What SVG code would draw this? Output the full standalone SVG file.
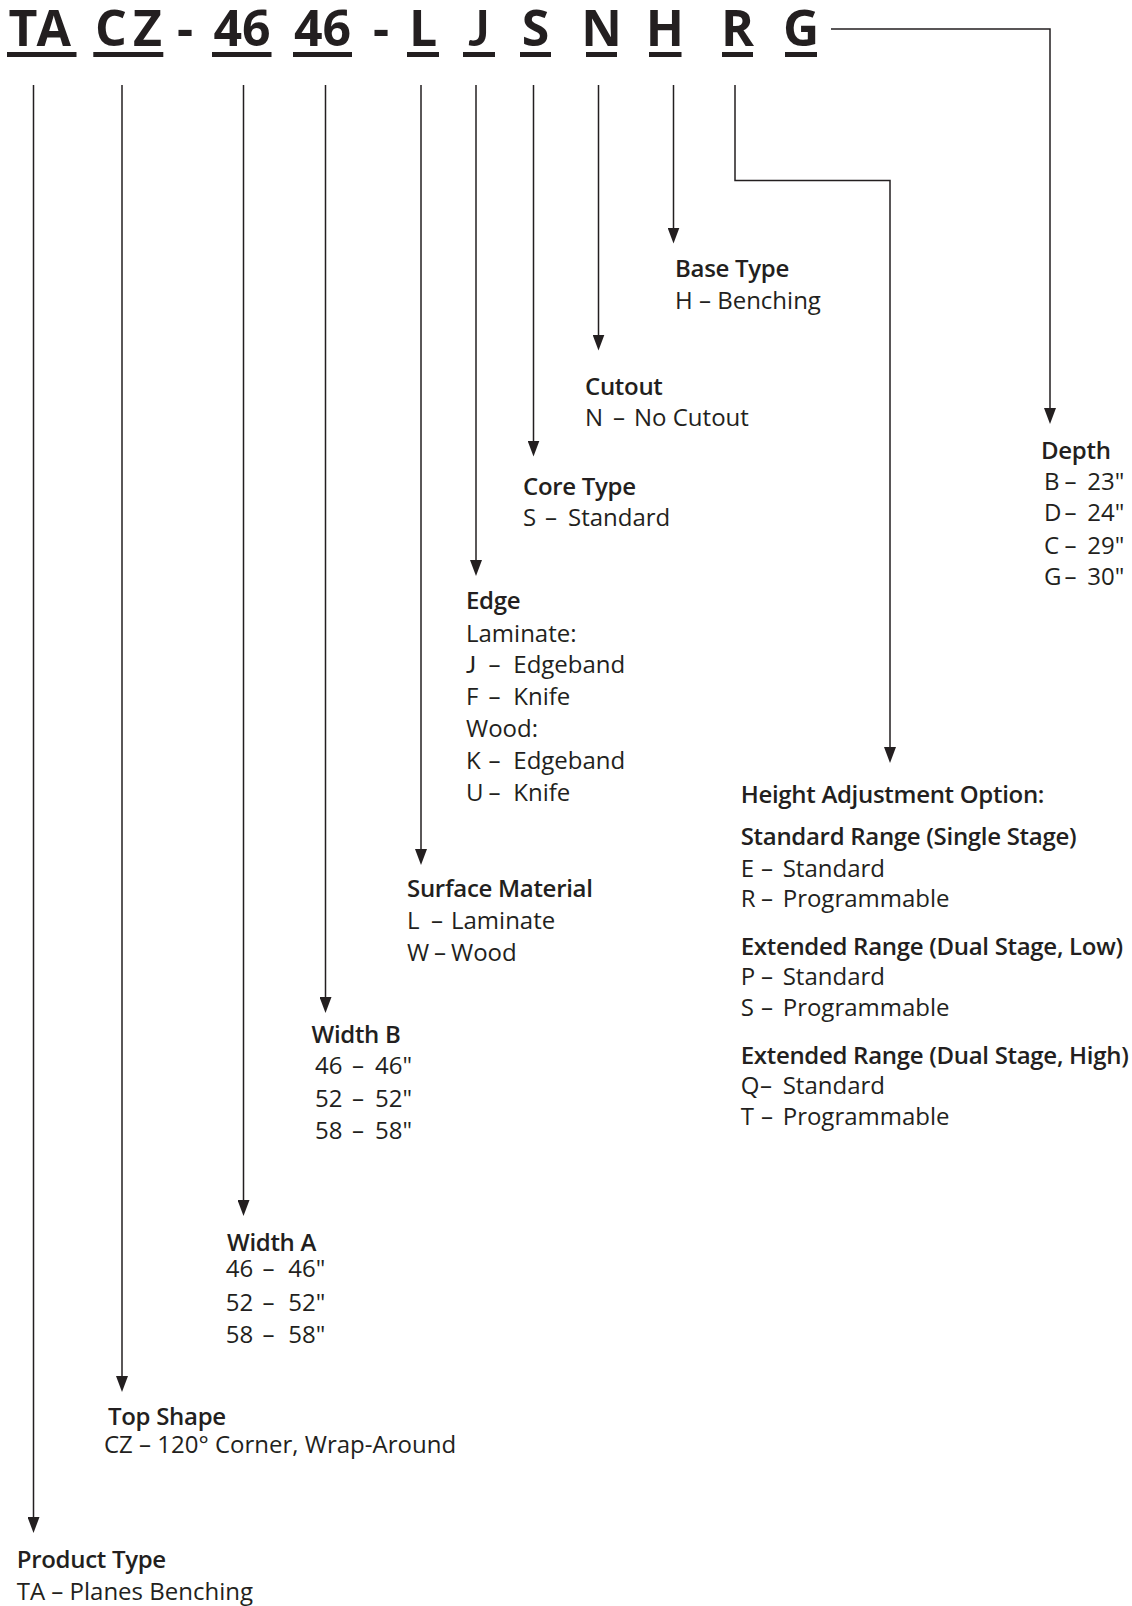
<svg xmlns="http://www.w3.org/2000/svg" width="1132" height="1606" viewBox="0 0 1132 1606">
<style>
text{font-family:"Open Sans","Noto Sans","Liberation Sans",sans-serif;fill:#231f20}
.code{font-size:50px;font-weight:700;text-anchor:middle}
.jj{font-family:Lato,"Open Sans",sans-serif}
.h{font-size:24px;font-weight:600;letter-spacing:-0.3px}
.t{font-size:24px;font-weight:400}
.ul{fill:#231f20}
.conn{fill:none;stroke:#231f20;stroke-width:1.5}
</style>
<defs>
<marker id="arr" viewBox="0 -6 16 12" refX="8" refY="0" markerWidth="16" markerHeight="12" markerUnits="userSpaceOnUse" orient="auto">
<path d="M0,-6 L16,0 L0,6 z" fill="#231f20"/>
</marker>
</defs>
<g id="code">
<text class="code" x="23" y="45.5">T</text>
<text class="code" x="53.7" y="45.5">A</text>
<text class="code" x="111" y="45.5">C</text>
<text class="code" x="147.5" y="45.5">Z</text>
<text class="code" x="185" y="45.5">-</text>
<text class="code" x="242" y="45.5">46</text>
<text class="code" x="322.5" y="45.5">46</text>
<text class="code" x="381" y="45.5">-</text>
<text class="code" x="423" y="45.5">L</text>
<text class="code jj" x="479" y="45.5">J</text>
<text class="code" x="535.5" y="45.5">S</text>
<text class="code" x="601.5" y="45.5">N</text>
<text class="code" x="665" y="45.5">H</text>
<text class="code" x="737.5" y="45.5">R</text>
<text class="code" x="801" y="45.5">G</text>
<rect class="ul" x="7" y="52" width="69.5" height="5"/>
<rect class="ul" x="93.3" y="52" width="70" height="5"/>
<rect class="ul" x="212" y="52" width="59.5" height="5"/>
<rect class="ul" x="293" y="52" width="59" height="5"/>
<rect class="ul" x="407" y="52" width="32" height="5"/>
<rect class="ul" x="463" y="52" width="32" height="5"/>
<rect class="ul" x="520" y="52" width="31" height="5"/>
<rect class="ul" x="586" y="52" width="31" height="5"/>
<rect class="ul" x="649" y="52" width="32.5" height="5"/>
<rect class="ul" x="722" y="52" width="31" height="5"/>
<rect class="ul" x="785" y="52" width="32" height="5"/>
</g>
<g id="connectors">
<path class="conn" marker-end="url(#arr)" d="M33.5,85 V1525"/>
<path class="conn" marker-end="url(#arr)" d="M122,85 V1384"/>
<path class="conn" marker-end="url(#arr)" d="M243.5,85 V1208"/>
<path class="conn" marker-end="url(#arr)" d="M325.5,85 V1005"/>
<path class="conn" marker-end="url(#arr)" d="M421,85 V857"/>
<path class="conn" marker-end="url(#arr)" d="M476,85 V568"/>
<path class="conn" marker-end="url(#arr)" d="M533.5,85 V448.5"/>
<path class="conn" marker-end="url(#arr)" d="M598.5,85 V342.5"/>
<path class="conn" marker-end="url(#arr)" d="M673.5,85 V235.5"/>
<path class="conn" marker-end="url(#arr)" d="M735,85 V180.5 H890 V755"/>
<path class="conn" marker-end="url(#arr)" d="M831,29 H1050 V416"/>
</g>
<g id="base-type">
<text class="h" x="675" y="276.5">Base Type</text>
<text class="t" x="675" y="309">H – Benching</text>
</g>
<g id="cutout">
<text class="h" x="585" y="395">Cutout</text>
<text class="t" y="426"><tspan x="585">N</tspan><tspan x="613">–</tspan><tspan x="634">No Cutout</tspan></text>
</g>
<g id="core-type">
<text class="h" x="523" y="495">Core Type</text>
<text class="t" y="526"><tspan x="523">S</tspan><tspan x="545">–</tspan><tspan x="568">Standard</tspan></text>
</g>
<g id="edge">
<text class="h" x="466" y="609">Edge</text>
<text class="t" x="466" y="641.5">Laminate:</text>
<text class="t" y="673"><tspan x="466" class="jj">J</tspan><tspan x="488.5">–</tspan><tspan x="513.3">Edgeband</tspan></text>
<text class="t" y="705"><tspan x="466">F</tspan><tspan x="488.5">–</tspan><tspan x="513.3">Knife</tspan></text>
<text class="t" x="466" y="737">Wood:</text>
<text class="t" y="769"><tspan x="466">K</tspan><tspan x="488.5">–</tspan><tspan x="513.3">Edgeband</tspan></text>
<text class="t" y="800.5"><tspan x="466">U</tspan><tspan x="488.5">–</tspan><tspan x="513.3">Knife</tspan></text>
</g>
<g id="surface-material">
<text class="h" x="407" y="897">Surface Material</text>
<text class="t" y="929"><tspan x="407">L</tspan><tspan x="431">–</tspan><tspan x="451">Laminate</tspan></text>
<text class="t" y="961"><tspan x="407">W</tspan><tspan x="434">–</tspan><tspan x="451">Wood</tspan></text>
</g>
<g id="width-b">
<text class="h" x="311.5" y="1043">Width B</text>
<text class="t" y="1074"><tspan x="315">46</tspan><tspan x="352">–</tspan><tspan x="375">46"</tspan></text>
<text class="t" y="1106.5"><tspan x="315">52</tspan><tspan x="352">–</tspan><tspan x="375">52"</tspan></text>
<text class="t" y="1139"><tspan x="315">58</tspan><tspan x="352">–</tspan><tspan x="375">58"</tspan></text>
</g>
<g id="width-a">
<text class="h" x="227" y="1250.5">Width A</text>
<text class="t" y="1277"><tspan x="225.7">46</tspan><tspan x="262.5">–</tspan><tspan x="288.3">46"</tspan></text>
<text class="t" y="1310.5"><tspan x="225.7">52</tspan><tspan x="262.5">–</tspan><tspan x="288.3">52"</tspan></text>
<text class="t" y="1342.5"><tspan x="225.7">58</tspan><tspan x="262.5">–</tspan><tspan x="288.3">58"</tspan></text>
</g>
<g id="top-shape">
<text class="h" x="108" y="1425">Top Shape</text>
<text class="t" x="104" y="1453">CZ – 120° Corner, Wrap-Around</text>
</g>
<g id="product-type">
<text class="h" x="16.7" y="1568">Product Type</text>
<text class="t" x="16.7" y="1600">TA – Planes Benching</text>
</g>
<g id="depth">
<text class="h" x="1041" y="459">Depth</text>
<text class="t" y="490"><tspan x="1044">B</tspan><tspan x="1064.5">–</tspan><tspan x="1087.3">23"</tspan></text>
<text class="t" y="521"><tspan x="1044">D</tspan><tspan x="1064.5">–</tspan><tspan x="1087.3">24"</tspan></text>
<text class="t" y="553.5"><tspan x="1044">C</tspan><tspan x="1064.5">–</tspan><tspan x="1087.3">29"</tspan></text>
<text class="t" y="585"><tspan x="1044">G</tspan><tspan x="1064.5">–</tspan><tspan x="1087.3">30"</tspan></text>
</g>
<g id="height-adjustment">
<text class="h" x="740.7" y="803">Height Adjustment Option:</text>
<text class="h" x="740.7" y="845">Standard Range (Single Stage)</text>
<text class="t" y="876.5"><tspan x="740.7">E</tspan><tspan x="761">–</tspan><tspan x="782.7">Standard</tspan></text>
<text class="t" y="907"><tspan x="740.7">R</tspan><tspan x="761">–</tspan><tspan x="782.7">Programmable</tspan></text>
<text class="h" x="740.7" y="955">Extended Range (Dual Stage, Low)</text>
<text class="t" y="985"><tspan x="740.7">P</tspan><tspan x="761">–</tspan><tspan x="782.7">Standard</tspan></text>
<text class="t" y="1016"><tspan x="740.7">S</tspan><tspan x="761">–</tspan><tspan x="782.7">Programmable</tspan></text>
<text class="h" x="740.7" y="1064">Extended Range (Dual Stage, High)</text>
<text class="t" y="1094"><tspan x="740.7">Q</tspan><tspan x="760">–</tspan><tspan x="782.7">Standard</tspan></text>
<text class="t" y="1125"><tspan x="740.7">T</tspan><tspan x="761">–</tspan><tspan x="782.7">Programmable</tspan></text>
</g>
</svg>
